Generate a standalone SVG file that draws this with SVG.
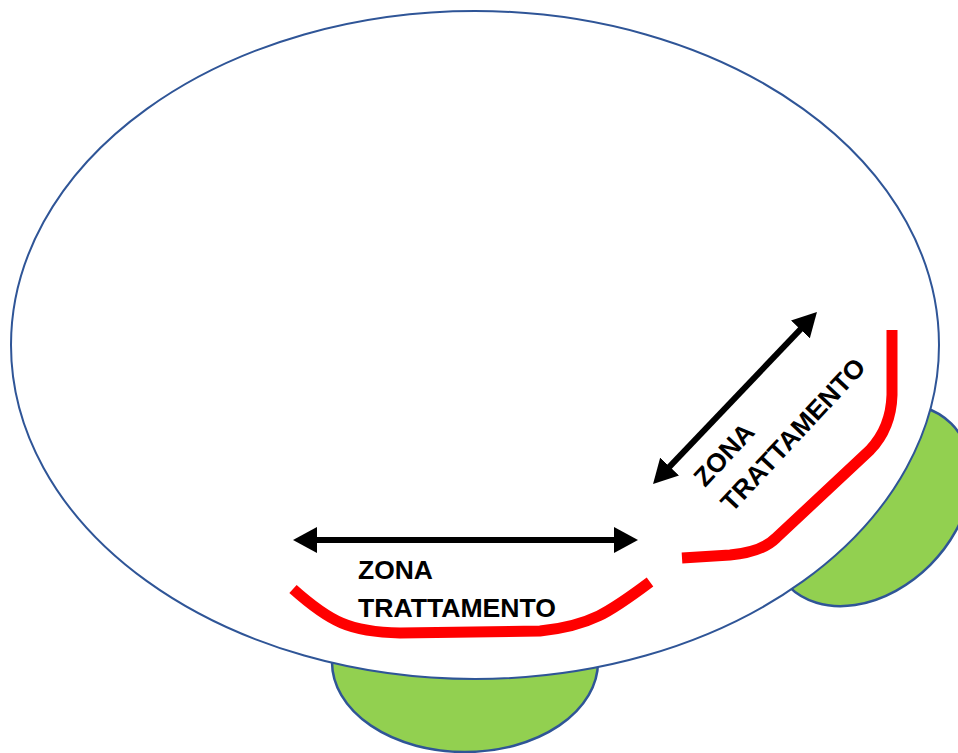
<svg xmlns="http://www.w3.org/2000/svg" width="958" height="753" viewBox="0 0 958 753">
<style>
.pad{fill:#92D050;stroke:#2F5597;stroke-width:2.5}
.table{fill:#FFFFFF;stroke:#2F5597;stroke-width:2}
.zone{fill:none;stroke:#FF0000;stroke-width:11}
.arrow{stroke:#000;stroke-width:6;fill:none}
.lbl{font-family:"Liberation Sans",Arial,sans-serif;font-weight:bold;font-size:26px;fill:#000}
</style>
<defs>
<marker id="ah" markerUnits="userSpaceOnUse" markerWidth="24" markerHeight="26" refX="9" refY="13" orient="auto-start-reverse">
<path d="M0,0 L24,13 L0,26 z" fill="#000"/>
</marker>
</defs>
<rect width="958" height="753" fill="#FFFFFF"/>
<g id="pad-bottom"><ellipse class="pad" cx="465" cy="662" rx="133" ry="90"/></g>
<g id="pad-right"><ellipse class="pad" cx="870" cy="505" rx="115" ry="85" transform="rotate(-45 870 505)"/></g>
<g id="table"><ellipse class="table" cx="475" cy="345" rx="464" ry="334"/></g>
<g id="zone-bottom">
<path class="zone" d="M293,589 C330,622 350,632 400,633 L540,631 C590,626 610,612 650,582"/>
<text class="lbl" x="358" y="579" textLength="75" lengthAdjust="spacingAndGlyphs">ZONA</text>
<text class="lbl" x="358" y="617" textLength="198" lengthAdjust="spacingAndGlyphs">TRATTAMENTO</text>
</g>
<g id="zone-right">
<path class="zone" d="M892,330 L892,395 Q891,428 870,450 L776,538 Q762,552 730,555 L682,558"/>
<g transform="translate(705,488) rotate(-47)">
<text class="lbl" x="0" y="0" textLength="75" lengthAdjust="spacingAndGlyphs">ZONA</text>
<text class="lbl" x="0" y="37" textLength="198" lengthAdjust="spacingAndGlyphs">TRATTAMENTO</text>
</g>
</g>
<g id="connectors">
<line class="arrow" x1="308" y1="540" x2="623" y2="540" marker-start="url(#ah)" marker-end="url(#ah)"/>
<line class="arrow" x1="663.4" y1="473.1" x2="806.6" y2="322.9" marker-start="url(#ah)" marker-end="url(#ah)"/>
</g>
</svg>
